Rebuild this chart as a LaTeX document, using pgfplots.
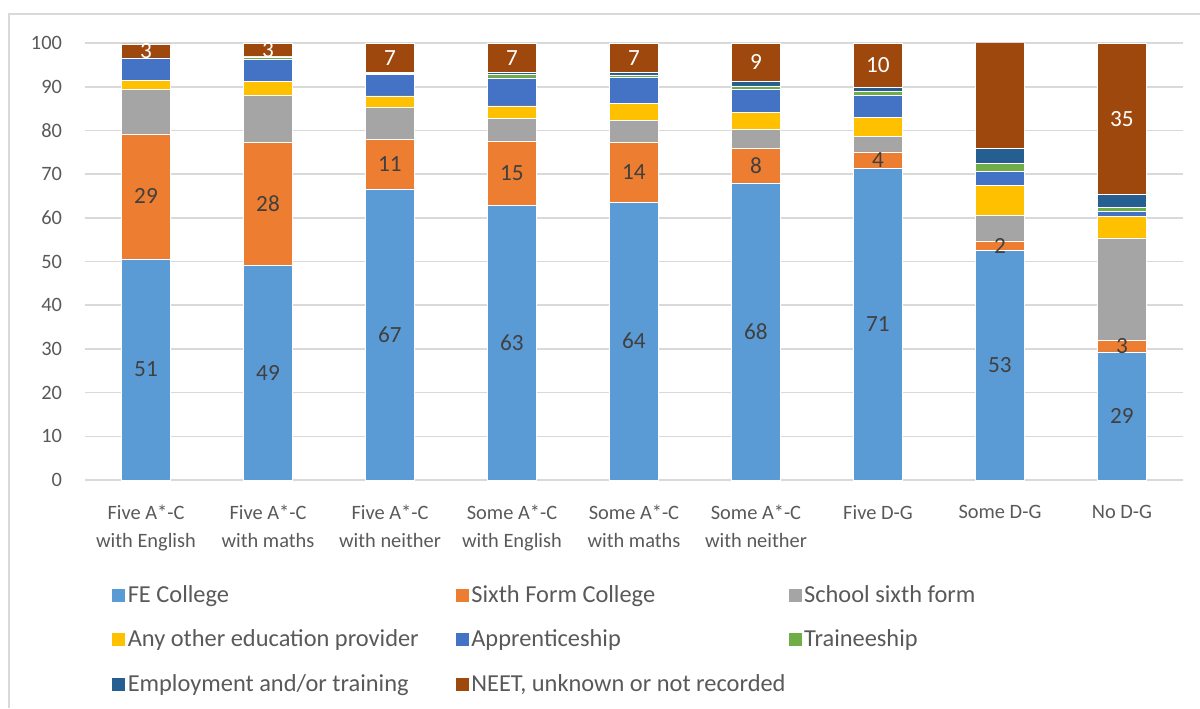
\documentclass[border=0pt]{standalone}
\usepackage{pgfplots}
\pgfplotsset{compat=1.18}
\usepackage{pgfplotstable}
\usepackage{fontspec}
\setmainfont{Carlito}

\definecolor{fe}{HTML}{5B9BD5}
\definecolor{sixth}{HTML}{ED7D31}
\definecolor{school}{HTML}{A5A5A5}
\definecolor{other}{HTML}{FFC000}
\definecolor{appr}{HTML}{4472C4}
\definecolor{train}{HTML}{70AD47}
\definecolor{employ}{HTML}{255E91}
\definecolor{neet}{HTML}{9E480E}
\definecolor{txt}{HTML}{595959}
\definecolor{lbl}{HTML}{404040}
\definecolor{gridc}{HTML}{D9D9D9}

% percentages by prior attainment group
\pgfplotstableread{
x  FE    Sixth School Other Appr Train Employ NEET
0  50.6  28.6  10.1   2.2   4.9  0.1   0.1    3.2
1  49.2  28.1  10.7   3.3   5.0  0.5   0.2    2.9
2  66.6  11.4  7.3    2.6   5.0  0.1   0.3    6.7
3  62.9  14.7  5.1    2.9   6.4  0.8   0.5    6.7
4  63.6  13.6  5.1    3.8   6.0  0.6   0.5    6.8
5  68.0  7.8   4.4    4.0   5.3  0.7   1.0    8.8
6  71.3  3.8   3.6    4.3   5.0  1.0   0.8    10.2
7  52.6  2.1   5.9    6.8   3.2  1.8   3.4    24.3
8  29.3  2.7   23.4   5.0   1.0  1.0   3.0    34.6
}\data

% value labels (stacked bars put them mid-segment with compat 1.18)
\pgfplotsset{
  seg labels/.style={
    point meta=explicit,
    nodes near coords={\pgfmathprintnumber[fixed,precision=0]{\pgfplotspointmeta}},
    every node near coord/.append style={anchor=center,
      font=\fontsize{11.6}{13}\selectfont, text=#1},
  },
}

\begin{document}
\begin{tikzpicture}
\useasboundingbox (-42.5pt,-114pt) rectangle (557.5pt,240pt);
\draw[gridc, line width=1pt] (-38pt,-114pt) -- (-38pt,233pt) -- (557.5pt,233pt);
\begin{axis}[
    scale only axis,
    width=549pt, height=218.5pt,
    ybar stacked, bar width=24.3pt,
    xmin=-0.5, xmax=8.5, ymin=0, ymax=100,
    enlarge y limits=false,
    xtick=data,
    xticklabels={{Five A*-C\\with English},{Five A*-C\\with maths},{Five A*-C\\with neither},
      {Some A*-C\\with English},{Some A*-C\\with maths},{Some A*-C\\with neither},
      {Five D-G},{Some D-G},{No D-G}},
    xticklabel style={align=center, text=txt, font=\fontsize{10.2}{14}\selectfont, yshift=-9pt},
    ytick={0,10,...,100},
    yticklabel style={text=txt, font=\fontsize{10.2}{12}\selectfont, xshift=-8pt},
    /pgf/number format/assume math mode=true,
    ymajorgrids, grid style={gridc, line width=0.8pt},
    axis line style={draw=none},
    major tick style={draw=none},
    every axis plot/.append style={draw=white, line width=0.3pt},
    legend columns=3,
    legend cell align=left,
    legend style={at={(0.018,-0.222)}, anchor=north west, draw=none, fill=none,
      font=\fontsize{12.2}{13.5}\selectfont, text=txt,
      nodes={inner xsep=1pt},
      /tikz/column 2/.style={column sep=17pt},
      /tikz/column 4/.style={column sep=0pt},
      row sep=8.2pt},
    legend image code/.code={\fill[#1] (0pt,-3.5pt) rectangle (7pt,3.5pt);},
]
\addplot[fill=fe, seg labels=lbl] table[x=x, y=FE, meta=FE] {\data};
\addlegendentry{FE College}
\addplot[fill=sixth, seg labels=lbl] table[x=x, y=Sixth, meta=Sixth] {\data};
\addlegendentry{Sixth Form College}
\addplot[fill=school] table[x=x, y=School] {\data};
\addlegendentry{School sixth form}
\addplot[fill=other] table[x=x, y=Other] {\data};
\addlegendentry{Any other education provider}
\addplot[fill=appr] table[x=x, y=Appr] {\data};
\addlegendentry{Apprenticeship}
\addplot[fill=train] table[x=x, y=Train] {\data};
\addlegendentry{Traineeship}
\addplot[fill=employ] table[x=x, y=Employ] {\data};
\addlegendentry{Employment and/or training}
\addplot[fill=neet, seg labels=white] table[x=x, y=NEET, meta=NEET] {\data};
\addlegendentry{NEET, unknown or not recorded}
\end{axis}
\end{tikzpicture}
\end{document}
